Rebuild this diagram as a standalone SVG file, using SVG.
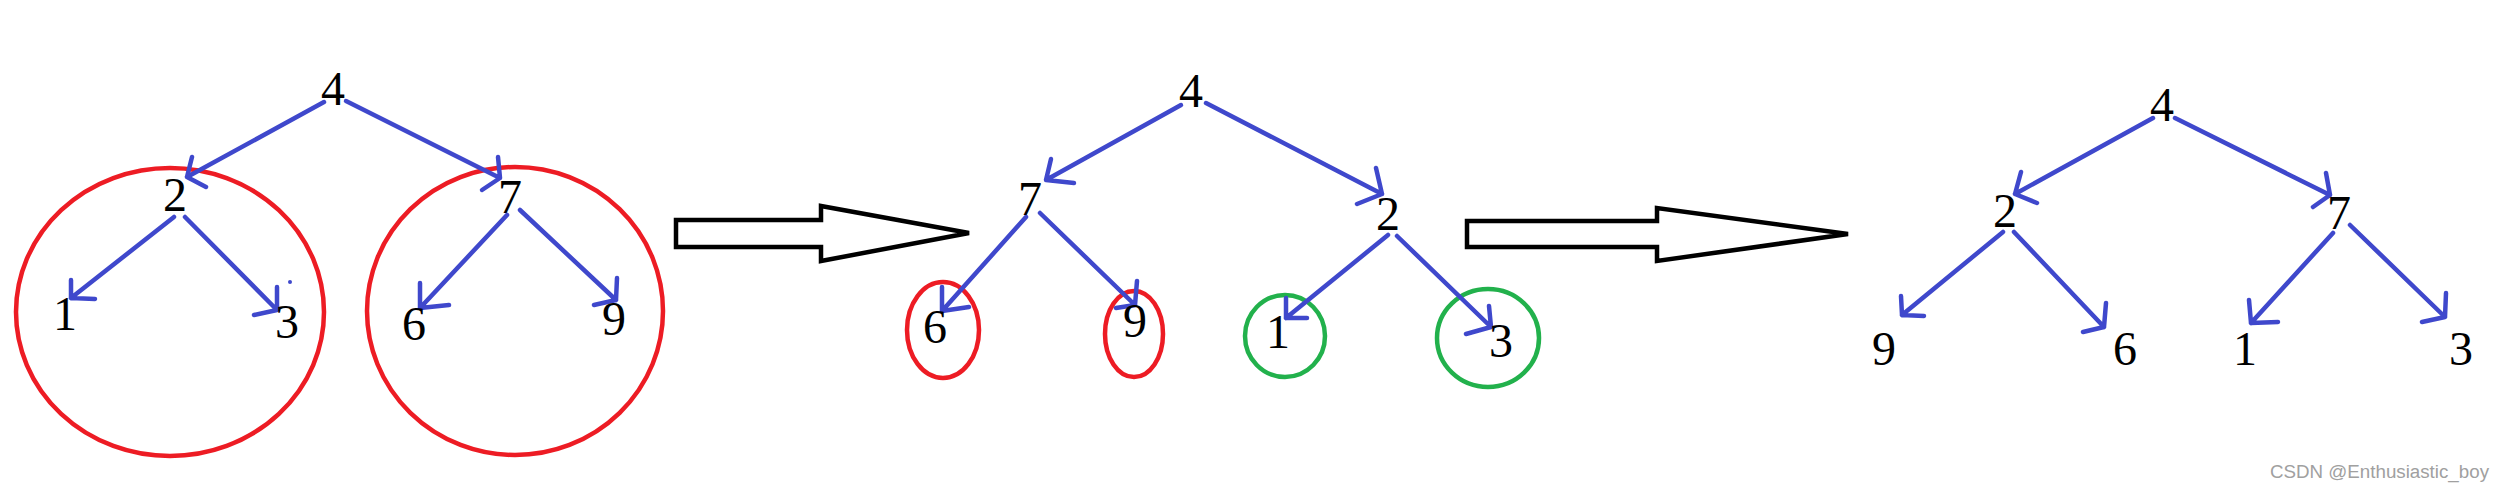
<svg xmlns="http://www.w3.org/2000/svg" width="2505" height="491" viewBox="0 0 2505 491">
<style>
.n{font-family:"Liberation Serif","Times New Roman",serif;font-size:48px;fill:#000;text-anchor:middle}
.e{fill:none;stroke:#3f48cc;stroke-width:4.5;stroke-linecap:round;stroke-linejoin:round}
.r{fill:none;stroke:#ed1c24;stroke-width:4.5}
.g{fill:none;stroke:#22b14c;stroke-width:4.5}
.big{fill:#fff;stroke:#000;stroke-width:4.5;stroke-linejoin:miter}
.wm{font-family:"Liberation Sans",Arial,sans-serif;font-size:18px;fill:#a0a0a0}
</style>
<rect width="2505" height="491" fill="#fff"/>

<g id="highlights">
<ellipse class="r" cx="170" cy="312" rx="154" ry="144"/>
<ellipse class="r" cx="515" cy="311" rx="148" ry="144"/>
<ellipse class="r" cx="943" cy="330" rx="36" ry="48"/>
<ellipse class="r" cx="1134" cy="334" rx="29" ry="43"/>
<ellipse class="g" cx="1285" cy="336" rx="40" ry="41"/>
<ellipse class="g" cx="1488" cy="338" rx="51" ry="49"/>
</g>

<g id="connectors">
<!-- panel 1 -->
<path class="e" d="M324,102 L187,177 M192,157 L187,177 L206,187"/>
<path class="e" d="M346,101 L500,178 M498,157 L500,178 L482,190"/>
<path class="e" d="M174,217 L71,298 M71,280 L71,298 L95,299"/>
<path class="e" d="M185,217 L277,310 M277,287 L277,310 L254,315"/>
<circle cx="290" cy="282" r="2" fill="#3f48cc"/>
<path class="e" d="M507,215 L420,308 M420,283 L420,308 L449,305"/>
<path class="e" d="M520,210 L616,300 M617,278 L616,300 L594,305"/>
<!-- panel 2 -->
<path class="e" d="M1181,105 L1046,180 M1051,159 L1046,180 L1074,183"/>
<path class="e" d="M1206,103 L1382,194 M1376,168 L1382,194 L1357,204"/>
<path class="e" d="M1026,217 L942,311 M942,287 L942,311 L969,307"/>
<path class="e" d="M1040,213 L1135,305 M1137,281 L1135,305 L1116,308"/>
<path class="e" d="M1388,235 L1286,318 M1286,298 L1286,318 L1307,318"/>
<path class="e" d="M1397,236 L1491,327 M1489,306 L1491,327 L1466,334"/>
<!-- panel 3 -->
<path class="e" d="M2153,118 L2015,194 M2021,172 L2015,194 L2037,203"/>
<path class="e" d="M2175,118 L2330,195 M2326,173 L2330,195 L2313,207"/>
<path class="e" d="M2003,232 L1902,315 M1901,296 L1902,315 L1924,316"/>
<path class="e" d="M2014,232 L2104,327 M2106,303 L2104,327 L2083,332"/>
<path class="e" d="M2333,233 L2251,323 M2249,300 L2251,323 L2278,322"/>
<path class="e" d="M2350,225 L2445,317 M2446,293 L2445,317 L2422,322"/>
</g>

<g id="transition-arrows">
<polygon class="big" points="676,220 821,220 821,206 969,233 821,261 821,247 676,247"/>
<polygon class="big" points="1467,221 1657,221 1657,208 1848,234 1657,261 1657,247 1467,247"/>
</g>

<g id="tree1">
<g id="t1-n4"><text class="n" x="333" y="105">4</text></g>
<g id="t1-n2"><text class="n" x="175" y="211">2</text></g>
<g id="t1-n7"><text class="n" x="510" y="213">7</text></g>
<g id="t1-n1"><text class="n" x="65" y="330">1</text></g>
<g id="t1-n3"><text class="n" x="287" y="338">3</text></g>
<g id="t1-n6"><text class="n" x="414" y="340">6</text></g>
<g id="t1-n9"><text class="n" x="614" y="335">9</text></g>
</g>

<g id="tree2">
<g id="t2-n4"><text class="n" x="1191" y="107">4</text></g>
<g id="t2-n7"><text class="n" x="1030" y="215">7</text></g>
<g id="t2-n2"><text class="n" x="1388" y="230">2</text></g>
<g id="t2-n6"><text class="n" x="935" y="343">6</text></g>
<g id="t2-n9"><text class="n" x="1135" y="337">9</text></g>
<g id="t2-n1"><text class="n" x="1278" y="348">1</text></g>
<g id="t2-n3"><text class="n" x="1501" y="357">3</text></g>
</g>

<g id="tree3">
<g id="t3-n4"><text class="n" x="2162" y="121">4</text></g>
<g id="t3-n2"><text class="n" x="2005" y="227">2</text></g>
<g id="t3-n7"><text class="n" x="2339" y="229">7</text></g>
<g id="t3-n9"><text class="n" x="1884" y="365">9</text></g>
<g id="t3-n6"><text class="n" x="2125" y="365">6</text></g>
<g id="t3-n1"><text class="n" x="2245" y="365">1</text></g>
<g id="t3-n3"><text class="n" x="2461" y="365">3</text></g>
</g>

<text class="wm" x="2270" y="478" textLength="219" lengthAdjust="spacingAndGlyphs">CSDN @Enthusiastic_boy</text>
</svg>
